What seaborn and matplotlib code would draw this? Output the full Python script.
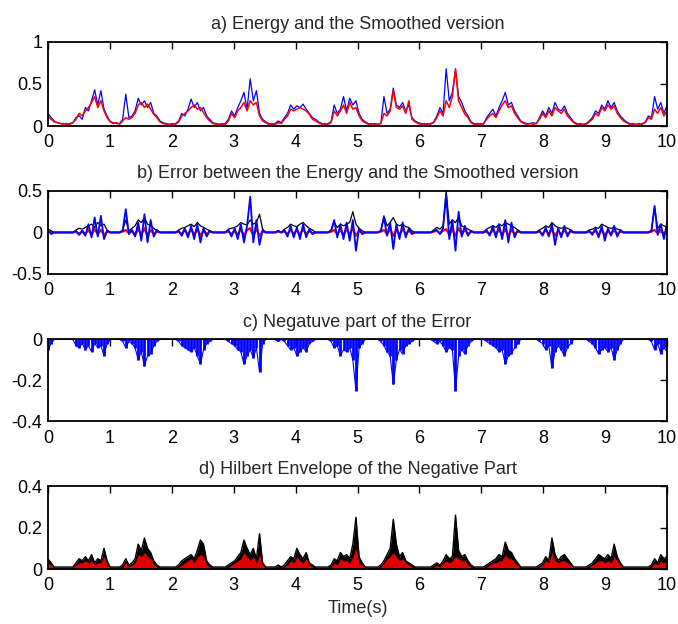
import numpy as np
import matplotlib
matplotlib.use('Agg')
import matplotlib.pyplot as plt
import seaborn as sns

# a) energy (blue) and smoothed version (red), 0.05 s per value
energy = [
    0.15, 0.10, 0.06, 0.04, 0.03, 0.03, 0.02, 0.03, 0.04, 0.10, 0.12, 0.08, 0.22, 0.18, 0.30, 0.43, 0.25, 0.42, 0.20, 0.12,
    0.05, 0.04, 0.03, 0.03, 0.08, 0.38, 0.10, 0.12, 0.18, 0.33, 0.25, 0.30, 0.22, 0.28, 0.15, 0.12, 0.06, 0.04, 0.03, 0.02,
    0.02, 0.03, 0.06, 0.15, 0.12, 0.20, 0.32, 0.22, 0.28, 0.18, 0.22, 0.12, 0.08, 0.04, 0.03, 0.02, 0.02, 0.03, 0.08, 0.18,
    0.12, 0.22, 0.30, 0.40, 0.20, 0.56, 0.30, 0.42, 0.15, 0.08, 0.05, 0.03, 0.02, 0.03, 0.06, 0.04, 0.10, 0.15, 0.25, 0.20,
    0.24, 0.22, 0.26, 0.20, 0.15, 0.10, 0.08, 0.05, 0.03, 0.02, 0.03, 0.05, 0.25, 0.15, 0.20, 0.35, 0.18, 0.33, 0.25, 0.30,
    0.15, 0.08, 0.05, 0.03, 0.02, 0.03, 0.02, 0.03, 0.35, 0.15, 0.20, 0.45, 0.25, 0.22, 0.28, 0.18, 0.25, 0.10, 0.06, 0.04,
    0.03, 0.02, 0.03, 0.02, 0.05, 0.12, 0.22, 0.15, 0.68, 0.30, 0.40, 0.67, 0.35, 0.28, 0.18, 0.12, 0.05, 0.03, 0.02, 0.03,
    0.02, 0.10, 0.15, 0.20, 0.12, 0.22, 0.30, 0.40, 0.25, 0.28, 0.18, 0.12, 0.06, 0.04, 0.03, 0.03, 0.04, 0.03, 0.10, 0.18,
    0.12, 0.22, 0.15, 0.28, 0.20, 0.18, 0.24, 0.15, 0.10, 0.05, 0.03, 0.02, 0.02, 0.03, 0.06, 0.10, 0.18, 0.15, 0.25, 0.20,
    0.30, 0.22, 0.28, 0.18, 0.12, 0.08, 0.05, 0.03, 0.02, 0.02, 0.03, 0.02, 0.05, 0.12, 0.10, 0.35, 0.20, 0.28, 0.15, 0.25,
]
smoothed = [
    0.12, 0.08, 0.05, 0.04, 0.03, 0.02, 0.03, 0.02, 0.04, 0.08, 0.15, 0.12, 0.18, 0.22, 0.28, 0.35, 0.22, 0.30, 0.18, 0.10,
    0.05, 0.03, 0.04, 0.02, 0.06, 0.10, 0.08, 0.10, 0.15, 0.25, 0.28, 0.22, 0.26, 0.20, 0.14, 0.10, 0.05, 0.03, 0.02, 0.02,
    0.03, 0.02, 0.05, 0.12, 0.15, 0.18, 0.22, 0.25, 0.20, 0.22, 0.16, 0.10, 0.06, 0.03, 0.02, 0.02, 0.03, 0.02, 0.06, 0.15,
    0.10, 0.18, 0.22, 0.28, 0.18, 0.30, 0.25, 0.28, 0.12, 0.06, 0.04, 0.02, 0.03, 0.02, 0.04, 0.03, 0.08, 0.12, 0.20, 0.18,
    0.20, 0.22, 0.20, 0.18, 0.14, 0.08, 0.06, 0.04, 0.02, 0.03, 0.02, 0.04, 0.18, 0.12, 0.18, 0.25, 0.15, 0.28, 0.20, 0.22,
    0.12, 0.06, 0.04, 0.02, 0.03, 0.02, 0.02, 0.03, 0.15, 0.12, 0.18, 0.42, 0.22, 0.20, 0.24, 0.15, 0.30, 0.08, 0.05, 0.03,
    0.02, 0.03, 0.02, 0.03, 0.04, 0.10, 0.18, 0.12, 0.30, 0.22, 0.35, 0.68, 0.30, 0.22, 0.14, 0.10, 0.04, 0.02, 0.03, 0.02,
    0.03, 0.08, 0.12, 0.15, 0.10, 0.18, 0.25, 0.30, 0.22, 0.24, 0.15, 0.10, 0.05, 0.03, 0.02, 0.03, 0.02, 0.03, 0.08, 0.15,
    0.10, 0.18, 0.12, 0.22, 0.18, 0.15, 0.20, 0.12, 0.08, 0.04, 0.02, 0.03, 0.02, 0.02, 0.05, 0.08, 0.15, 0.12, 0.22, 0.18,
    0.25, 0.20, 0.24, 0.15, 0.10, 0.06, 0.04, 0.02, 0.03, 0.02, 0.02, 0.03, 0.04, 0.10, 0.08, 0.20, 0.15, 0.22, 0.12, 0.18,
]

# b) error between energy and smoothed version
err_blue = [
    0.03, -0.02, 0, 0, 0, 0, 0, 0, 0, 0.02, -0.03, 0.02, -0.04, 0.10, -0.06, 0.18, -0.05, 0.20, -0.08, 0.02,
    0, 0, 0, 0, 0.02, 0.28, -0.02, 0.03, -0.05, 0.12, -0.10, 0.22, -0.12, 0.15, -0.05, 0.03, 0, 0, 0, 0,
    0, 0, 0.02, -0.04, 0.05, -0.06, 0.08, -0.08, 0.10, -0.12, 0.05, -0.05, 0.02, 0, 0, 0, 0, 0, 0.03, -0.05,
    0.05, -0.08, 0.10, -0.12, 0.08, 0.43, -0.12, 0.15, -0.15, 0.03, 0, 0, 0, 0, 0.02, 0, 0.03, -0.05, 0.08, -0.06,
    0.06, -0.08, 0.10, -0.06, 0.04, -0.02, 0, 0, 0, 0, 0, 0.02, 0.15, -0.06, 0.10, -0.08, 0.12, -0.10, 0.15, -0.22,
    0.05, -0.02, 0, 0, 0, 0, 0, 0.02, 0.18, -0.04, 0.12, -0.20, 0.10, -0.08, 0.12, -0.06, 0.05, -0.02, 0, 0,
    0, 0, 0, 0, 0.02, 0.03, -0.02, 0.05, 0.45, -0.08, 0.15, -0.22, 0.25, -0.05, 0.08, -0.04, 0.02, 0, 0, 0,
    0, 0.03, -0.04, 0.08, -0.06, 0.10, -0.08, 0.15, -0.12, 0.12, -0.06, 0.03, 0, 0, 0, 0, 0, 0, 0.02, -0.04,
    0.06, -0.05, 0.10, -0.15, 0.05, -0.06, 0.08, -0.05, 0.03, 0, 0, 0, 0, 0, 0.02, -0.03, 0.05, -0.06, 0.08, -0.10,
    0.05, -0.04, 0.08, -0.05, 0.03, 0, 0, 0, 0, 0, 0, 0, 0, 0, 0.02, 0.32, -0.03, 0.10, -0.08, 0.12,
]
err_black = [
    0.04, 0.02, 0, 0, 0, 0, 0, 0, 0, 0.03, 0.05, 0.04, 0.06, 0.08, 0.10, 0.06, 0.12, 0.08, 0.10, 0.03,
    0, 0, 0, 0, 0.03, 0.15, 0.02, 0.05, 0.08, 0.15, 0.12, 0.18, 0.10, 0.08, 0.05, 0.02, 0, 0, 0, 0,
    0, 0, 0.03, 0.05, 0.06, 0.08, 0.10, 0.07, 0.12, 0.08, 0.06, 0.04, 0.02, 0, 0, 0, 0, 0, 0.04, 0.05,
    0.06, 0.08, 0.12, 0.10, 0.09, 0.15, 0.10, 0.12, 0.22, 0.04, 0, 0, 0, 0, 0.02, 0, 0.04, 0.06, 0.10, 0.08,
    0.07, 0.10, 0.12, 0.08, 0.05, 0.03, 0, 0, 0, 0, 0, 0.03, 0.12, 0.06, 0.10, 0.08, 0.10, 0.12, 0.25, 0.10,
    0.05, 0.02, 0, 0, 0, 0, 0, 0.02, 0.20, 0.08, 0.12, 0.18, 0.10, 0.08, 0.10, 0.07, 0.06, 0.02, 0, 0,
    0, 0, 0, 0, 0.03, 0.06, 0.04, 0.08, 0.50, 0.10, 0.15, 0.12, 0.18, 0.08, 0.06, 0.04, 0.02, 0, 0, 0,
    0, 0.04, 0.06, 0.08, 0.06, 0.10, 0.08, 0.12, 0.10, 0.08, 0.06, 0.03, 0, 0, 0, 0, 0, 0, 0.03, 0.05,
    0.08, 0.06, 0.12, 0.08, 0.06, 0.05, 0.06, 0.05, 0.03, 0, 0, 0, 0, 0, 0.03, 0.04, 0.06, 0.05, 0.10, 0.08,
    0.06, 0.05, 0.06, 0.04, 0.03, 0, 0, 0, 0, 0, 0, 0, 0, 0, 0.03, 0.30, 0.05, 0.10, 0.08, 0.06,
]
err_red = [
    0.01, 0, 0, 0, 0, 0, 0, 0, 0, 0.01, -0.02, 0.02, -0.02, 0.03, -0.03, 0.04, -0.02, 0.03, -0.03, 0.01,
    0, 0, 0, 0, 0.01, 0.03, -0.01, 0.02, -0.03, 0.04, -0.03, 0.05, -0.04, 0.03, -0.02, 0.01, 0, 0, 0, 0,
    0, 0, 0.01, -0.02, 0.03, -0.03, 0.04, -0.03, 0.04, -0.04, 0.03, -0.02, 0.01, 0, 0, 0, 0, 0, 0.01, -0.02,
    0.02, -0.03, 0.04, -0.04, 0.03, 0.05, -0.04, 0.04, -0.04, 0.01, 0, 0, 0, 0, 0.01, 0, 0.01, -0.02, 0.03, -0.02,
    0.03, -0.03, 0.04, -0.02, 0.02, -0.01, 0, 0, 0, 0, 0, 0.01, 0.03, -0.02, 0.03, -0.03, 0.04, -0.03, 0.05, -0.04,
    0.02, -0.01, 0, 0, 0, 0, 0, 0.01, 0.03, -0.02, 0.04, -0.04, 0.03, -0.03, 0.04, -0.02, 0.02, -0.01, 0, 0,
    0, 0, 0, 0, 0.01, 0.02, -0.01, 0.02, 0.04, -0.03, 0.04, -0.04, 0.05, -0.02, 0.03, -0.02, 0.01, 0, 0, 0,
    0, 0.01, -0.02, 0.03, -0.02, 0.03, -0.03, 0.04, -0.04, 0.03, -0.02, 0.01, 0, 0, 0, 0, 0, 0, 0.01, -0.02,
    0.03, -0.02, 0.04, -0.04, 0.02, -0.03, 0.03, -0.02, 0.01, 0, 0, 0, 0, 0, 0.01, -0.01, 0.02, -0.03, 0.03, -0.03,
    0.02, -0.02, 0.03, -0.02, 0.01, 0, 0, 0, 0, 0, 0, 0, 0, 0, 0.01, 0.03, -0.01, 0.03, -0.03, 0.03,
]

# c) negative part of the error
neg_part = [
    -0.05, -0.02, 0, 0, 0, 0, 0, 0, 0, -0.03, -0.04, -0.02, -0.05, -0.03, -0.06, -0.02, -0.04, -0.03, -0.08, -0.02,
    0, 0, 0, 0, -0.01, -0.04, -0.01, -0.02, -0.04, -0.10, -0.06, -0.13, -0.08, -0.07, -0.03, -0.01, 0, 0, 0, 0,
    0, 0, -0.01, -0.03, -0.04, -0.05, -0.06, -0.04, -0.08, -0.12, -0.05, -0.02, -0.01, 0, 0, 0, 0, 0, -0.01, -0.02,
    -0.03, -0.05, -0.06, -0.12, -0.08, -0.05, -0.09, -0.04, -0.16, -0.02, 0, 0, 0, 0, -0.01, 0, -0.01, -0.03, -0.05, -0.04,
    -0.08, -0.06, -0.04, -0.06, -0.02, -0.01, 0, 0, 0, 0, 0, -0.01, -0.04, -0.03, -0.08, -0.05, -0.06, -0.04, -0.10, -0.25,
    -0.04, -0.02, 0, 0, 0, 0, 0, -0.01, -0.03, -0.06, -0.08, -0.22, -0.10, -0.05, -0.07, -0.03, -0.02, -0.01, 0, 0,
    0, 0, 0, 0, -0.01, -0.02, -0.01, -0.03, -0.06, -0.04, -0.05, -0.25, -0.08, -0.05, -0.07, -0.03, -0.01, 0, 0, 0,
    0, -0.01, -0.02, -0.03, -0.04, -0.06, -0.05, -0.12, -0.08, -0.07, -0.04, -0.02, 0, 0, 0, 0, 0, 0, -0.01, -0.02,
    -0.05, -0.03, -0.14, -0.06, -0.03, -0.05, -0.08, -0.04, -0.02, 0, 0, 0, 0, 0, -0.01, -0.02, -0.04, -0.07, -0.05, -0.04,
    -0.06, -0.04, -0.10, -0.05, -0.02, 0, 0, 0, 0, 0, 0, 0, 0, 0, -0.01, -0.05, -0.02, -0.07, -0.04, -0.06,
]

# d) hilbert envelope (black) and its filled inner part (red)
envelope = [
    0.05, 0.03, 0.01, 0.01, 0.01, 0.01, 0.01, 0.01, 0.01, 0.03, 0.05, 0.04, 0.06, 0.04, 0.07, 0.03, 0.05, 0.04, 0.10, 0.04,
    0.01, 0.01, 0.01, 0.01, 0.02, 0.05, 0.02, 0.03, 0.05, 0.12, 0.09, 0.15, 0.10, 0.08, 0.04, 0.02, 0.01, 0.01, 0.01, 0.01,
    0.01, 0.01, 0.02, 0.04, 0.05, 0.06, 0.07, 0.05, 0.09, 0.14, 0.12, 0.04, 0.02, 0.01, 0.01, 0.01, 0.01, 0.01, 0.02, 0.03,
    0.04, 0.06, 0.08, 0.14, 0.10, 0.07, 0.10, 0.05, 0.17, 0.03, 0.01, 0.01, 0.01, 0.01, 0.02, 0.01, 0.02, 0.04, 0.06, 0.05,
    0.10, 0.07, 0.05, 0.08, 0.03, 0.02, 0.01, 0.01, 0.01, 0.01, 0.01, 0.02, 0.05, 0.04, 0.08, 0.06, 0.07, 0.05, 0.12, 0.25,
    0.06, 0.03, 0.01, 0.01, 0.01, 0.01, 0.01, 0.02, 0.04, 0.07, 0.10, 0.24, 0.12, 0.06, 0.08, 0.04, 0.03, 0.02, 0.01, 0.01,
    0.01, 0.01, 0.01, 0.01, 0.02, 0.03, 0.02, 0.04, 0.07, 0.05, 0.06, 0.26, 0.09, 0.06, 0.07, 0.04, 0.02, 0.01, 0.01, 0.01,
    0.01, 0.02, 0.03, 0.04, 0.05, 0.07, 0.06, 0.13, 0.09, 0.08, 0.05, 0.03, 0.01, 0.01, 0.01, 0.01, 0.01, 0.01, 0.02, 0.03,
    0.06, 0.04, 0.15, 0.07, 0.04, 0.06, 0.07, 0.05, 0.03, 0.01, 0.01, 0.01, 0.01, 0.01, 0.02, 0.03, 0.05, 0.07, 0.06, 0.05,
    0.07, 0.05, 0.12, 0.06, 0.03, 0.01, 0.01, 0.01, 0.01, 0.01, 0.01, 0.01, 0.01, 0.01, 0.02, 0.05, 0.03, 0.07, 0.05, 0.06,
]
env_fill = [
    0.03, 0.02, 0.005, 0.005, 0.005, 0.005, 0.005, 0.005, 0.005, 0.02, 0.03, 0.03, 0.04, 0.03, 0.04, 0.02, 0.03, 0.03, 0.06, 0.02,
    0.005, 0.005, 0.005, 0.005, 0.01, 0.03, 0.01, 0.02, 0.03, 0.07, 0.06, 0.08, 0.06, 0.05, 0.02, 0.01, 0.005, 0.005, 0.005, 0.005,
    0.005, 0.005, 0.01, 0.02, 0.03, 0.04, 0.05, 0.03, 0.06, 0.07, 0.06, 0.02, 0.01, 0.005, 0.005, 0.005, 0.005, 0.005, 0.01, 0.02,
    0.03, 0.04, 0.05, 0.08, 0.06, 0.04, 0.06, 0.03, 0.07, 0.02, 0.005, 0.005, 0.005, 0.005, 0.01, 0.005, 0.01, 0.02, 0.04, 0.03,
    0.06, 0.04, 0.03, 0.05, 0.02, 0.01, 0.005, 0.005, 0.005, 0.005, 0.005, 0.01, 0.03, 0.02, 0.05, 0.04, 0.04, 0.03, 0.06, 0.10,
    0.03, 0.02, 0.005, 0.005, 0.005, 0.005, 0.005, 0.01, 0.03, 0.05, 0.06, 0.08, 0.06, 0.04, 0.05, 0.03, 0.02, 0.01, 0.005, 0.005,
    0.005, 0.005, 0.005, 0.005, 0.01, 0.02, 0.01, 0.03, 0.04, 0.03, 0.04, 0.06, 0.05, 0.04, 0.04, 0.02, 0.01, 0.005, 0.005, 0.005,
    0.005, 0.01, 0.02, 0.03, 0.03, 0.04, 0.04, 0.07, 0.05, 0.05, 0.03, 0.02, 0.005, 0.005, 0.005, 0.005, 0.005, 0.005, 0.01, 0.02,
    0.04, 0.03, 0.08, 0.04, 0.03, 0.04, 0.04, 0.03, 0.02, 0.005, 0.005, 0.005, 0.005, 0.005, 0.01, 0.02, 0.03, 0.04, 0.04, 0.03,
    0.04, 0.03, 0.06, 0.04, 0.02, 0.005, 0.005, 0.005, 0.005, 0.005, 0.005, 0.005, 0.005, 0.005, 0.01, 0.03, 0.02, 0.04, 0.03, 0.04,
]

titles = ['a) Energy and the Smoothed version',
          'b) Error between the Energy and the Smoothed version',
          'c) Negatuve part of the Error',
          'd) Hilbert Envelope of the Negative Part']
x_ticks = [0, 1, 2, 3, 4, 5, 6, 7, 8, 9, 10]
y_ticks = [[0, 0.5, 1], [-0.5, 0, 0.5], [-0.4, -0.2, 0], [0, 0.2, 0.4]]
y_labels = [['0', '0.5', '1'], ['-0.5', '0', '0.5'], ['-0.4', '-0.2', '0'], ['0', '0.2', '0.4']]

t = np.linspace(0, 10, len(energy))

sns.set_style('white')
plt.rcParams['font.family'] = ['Liberation Sans', 'DejaVu Sans']

fig = plt.figure(figsize=(6.78, 6.24), dpi=100)
boxes = [[0.0708, 0.798, 0.913, 0.135],
         [0.0708, 0.561, 0.913, 0.133],
         [0.0708, 0.325, 0.913, 0.131],
         [0.0708, 0.088, 0.913, 0.133]]
axes = [fig.add_axes(b) for b in boxes]

ax = axes[0]
sns.lineplot(x=t, y=energy, ax=ax, color='#0000ff', linewidth=0.9)
sns.lineplot(x=t, y=smoothed, ax=ax, color='#ff0000', linewidth=1.1)

ax = axes[1]
sns.lineplot(x=t, y=err_red, ax=ax, color='#ff0000', linewidth=1.6)
sns.lineplot(x=t, y=err_black, ax=ax, color='black', linewidth=0.9)
sns.lineplot(x=t, y=err_blue, ax=ax, color='#0000ff', linewidth=1.3)

ax = axes[2]
ax.vlines(t, neg_part, 0, color='#0000ff', linewidth=2.0)
sns.lineplot(x=t, y=neg_part, ax=ax, color='#0000ff', linewidth=0.8)

ax = axes[3]
ax.fill_between(t, 0, envelope, color='black', linewidth=0)
ax.fill_between(t, 0, env_fill, color='#e00000', linewidth=0)
sns.lineplot(x=t, y=envelope, ax=ax, color='black', linewidth=1.0)

for i, ax in enumerate(axes):
    ax.set_xlim(0, 10)
    ax.set_ylim(y_ticks[i][0], y_ticks[i][-1])
    ax.set_xticks(x_ticks)
    ax.set_xticklabels([str(v) for v in x_ticks])
    ax.set_yticks(y_ticks[i])
    ax.set_yticklabels(y_labels[i])
    ax.tick_params(direction='in', length=5, width=1, top=True, right=True,
                   labelsize=13, pad=4, colors='black')
    ax.tick_params(axis='x', pad=6)
    for sp in ax.spines.values():
        sp.set_visible(True)
        sp.set_color('black')
        sp.set_linewidth(1.3)
    ax.set_title(titles[i], fontsize=13, pad=9)
    ax.set_xlabel('')
    ax.set_ylabel('')

axes[3].set_xlabel('Time(s)', fontsize=13, labelpad=4)

fig.savefig('out.png', dpi=100)
